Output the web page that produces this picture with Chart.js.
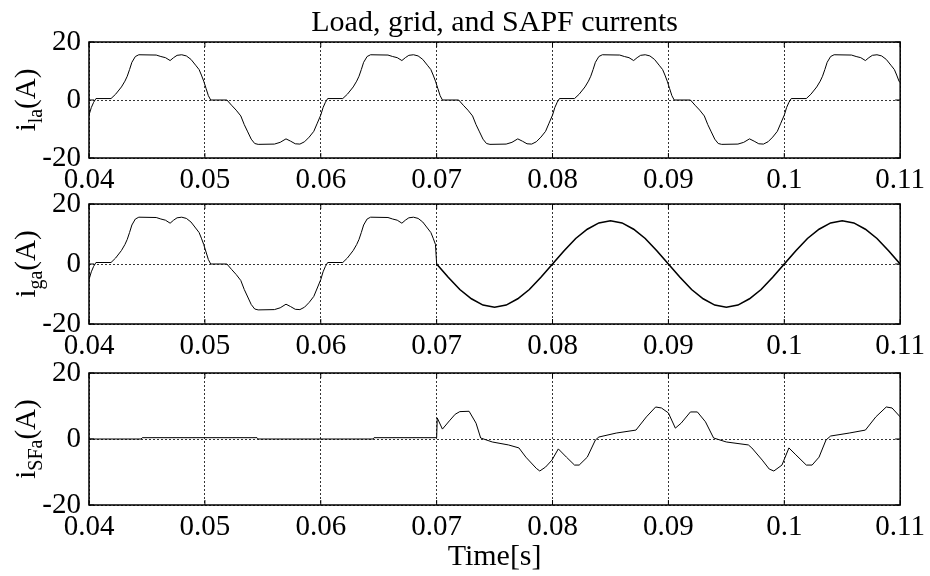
<!DOCTYPE html>
<html>
<head>
<meta charset="utf-8">
<script src="https://cdn.jsdelivr.net/npm/chart.js@4"></script>
<style>
  html, body { margin: 0; padding: 0; background: #fff; }
  #wrap { position: relative; width: 930px; height: 576px; }
  #wrap canvas { position: absolute; left: 0; top: 0; }
</style>
</head>
<body>
<div id="wrap">
  <canvas id="c1" width="930" height="576"></canvas>
  <canvas id="c2" width="930" height="576"></canvas>
  <canvas id="c3" width="930" height="576"></canvas>
</div>
<script>
const FAMILY = "'Liberation Serif', 'Times New Roman', serif";

const xTicks = [0.04, 0.05, 0.06, 0.07, 0.08, 0.09, 0.1, 0.11];
const xTickLabels = ['0.04', '0.05', '0.06', '0.07', '0.08', '0.09', '0.1', '0.11'];
const yTicks = [-20, 0, 20];
const yTickLabels = ['-20', '0', '20'];

// load current i_la
const loadT = [
  0.04, 0.0402, 0.0404, 0.0406, 0.0419, 0.0423, 0.0428, 0.0431, 0.0433, 0.0435, 0.0437, 0.044, 0.0443, 0.0458, 0.0462, 0.0466,
  0.047, 0.0473, 0.0476, 0.048, 0.0484, 0.0488, 0.0492, 0.0495, 0.0497, 0.0499, 0.0501, 0.0503, 0.0505, 0.0519, 0.0523, 0.0527,
  0.0531, 0.0534, 0.0537, 0.054, 0.0543, 0.0546, 0.056, 0.0565, 0.057, 0.0574, 0.0578, 0.0582, 0.0586, 0.059, 0.0594, 0.0597,
  0.06, 0.0602, 0.0604, 0.0606, 0.0619, 0.0623, 0.0628, 0.0631, 0.0633, 0.0635, 0.0637, 0.064, 0.0643, 0.0658, 0.0662, 0.0666,
  0.067, 0.0673, 0.0676, 0.068, 0.0684, 0.0688, 0.0692, 0.0695, 0.0697, 0.0699, 0.0701, 0.0703, 0.0705, 0.0719, 0.0723, 0.0727,
  0.0731, 0.0734, 0.0737, 0.074, 0.0743, 0.0746, 0.076, 0.0765, 0.077, 0.0774, 0.0778, 0.0782, 0.0786, 0.079, 0.0794, 0.0797,
  0.08, 0.0802, 0.0804, 0.0806, 0.0819, 0.0823, 0.0828, 0.0831, 0.0833, 0.0835, 0.0837, 0.084, 0.0843, 0.0858, 0.0862, 0.0866,
  0.087, 0.0873, 0.0876, 0.088, 0.0884, 0.0888, 0.0892, 0.0895, 0.0897, 0.0899, 0.0901, 0.0903, 0.0905, 0.0919, 0.0923, 0.0927,
  0.0931, 0.0934, 0.0937, 0.094, 0.0943, 0.0946, 0.096, 0.0965, 0.097, 0.0974, 0.0978, 0.0982, 0.0986, 0.099, 0.0994, 0.0997,
  0.1, 0.1002, 0.1004, 0.1006, 0.1019, 0.1023, 0.1028, 0.1031, 0.1033, 0.1035, 0.1037, 0.104, 0.1043, 0.1058, 0.1062, 0.1066,
  0.107, 0.1073, 0.1076, 0.108, 0.1084, 0.1088, 0.1092, 0.1095, 0.1097, 0.1099, 0.11
];
const loadI = [
  -5.2, -2.6, -0.8, 0.5, 0.5, 2, 4.5, 6.5, 8.2, 10.5, 13, 15, 15.6, 15.5, 15, 14.6,
  13.6, 14.6, 15.4, 15.6, 15.2, 14, 12, 10.5, 8.6, 6.5, 4, 1.5, 0, 0, -1.8, -3.5,
  -5.5, -8.5, -11, -13.5, -15, -15.3, -15.2, -14.6, -13.4, -14.2, -15.1, -15.2, -14.4, -12.8, -10.8, -8,
  -5.2, -2.6, -0.8, 0.5, 0.5, 2, 4.5, 6.5, 8.2, 10.5, 13, 15, 15.6, 15.5, 15, 14.6,
  13.6, 14.6, 15.4, 15.6, 15.2, 14, 12, 10.5, 8.6, 6.5, 4, 1.5, 0, 0, -1.8, -3.5,
  -5.5, -8.5, -11, -13.5, -15, -15.3, -15.2, -14.6, -13.4, -14.2, -15.1, -15.2, -14.4, -12.8, -10.8, -8,
  -5.2, -2.6, -0.8, 0.5, 0.5, 2, 4.5, 6.5, 8.2, 10.5, 13, 15, 15.6, 15.5, 15, 14.6,
  13.6, 14.6, 15.4, 15.6, 15.2, 14, 12, 10.5, 8.6, 6.5, 4, 1.5, 0, 0, -1.8, -3.5,
  -5.5, -8.5, -11, -13.5, -15, -15.3, -15.2, -14.6, -13.4, -14.2, -15.1, -15.2, -14.4, -12.8, -10.8, -8,
  -5.2, -2.6, -0.8, 0.5, 0.5, 2, 4.5, 6.5, 8.2, 10.5, 13, 15, 15.6, 15.5, 15, 14.6,
  13.6, 14.6, 15.4, 15.6, 15.2, 14, 12, 10.5, 8.6, 6.5, 6
];

// grid current i_ga after compensation starts at 0.07 s (before that it equals the load current)
const gridSwitchT = 0.07;
const gridT = [
  0.07, 0.071, 0.072, 0.073, 0.074, 0.075, 0.076, 0.077, 0.078, 0.079,
  0.08, 0.081, 0.082, 0.083, 0.084, 0.085, 0.086, 0.087, 0.088, 0.089,
  0.09, 0.091, 0.092, 0.093, 0.094, 0.095, 0.096, 0.097, 0.098, 0.099,
  0.1, 0.101, 0.102, 0.103, 0.104, 0.105, 0.106, 0.107, 0.108, 0.109, 0.11
];
const gridI = [
  0, -4.4, -8.5, -11.6, -13.7, -14.4, -13.7, -11.6, -8.5, -4.4,
  0, 4.4, 8.5, 11.6, 13.7, 14.4, 13.7, 11.6, 8.5, 4.4,
  0, -4.4, -8.5, -11.6, -13.7, -14.4, -13.7, -11.6, -8.5, -4.4,
  0, 4.4, 8.5, 11.6, 13.7, 14.4, 13.7, 11.6, 8.5, 4.4, 0
];

// shunt active filter current i_SFa
const sfT = [
  0.04, 0.0445, 0.0446, 0.0545, 0.0546, 0.0645, 0.0646, 0.07, 0.07005, 0.0705,
  0.0711, 0.0716, 0.072, 0.0728, 0.0734, 0.0738, 0.0748, 0.0762, 0.0771, 0.0777,
  0.0786, 0.0789, 0.0794, 0.07995, 0.0805, 0.0812, 0.0819, 0.0823, 0.083, 0.0837,
  0.084, 0.0855, 0.0872, 0.0881, 0.0889, 0.0894, 0.09, 0.0906, 0.0911, 0.0919,
  0.0925, 0.0932, 0.0939, 0.095, 0.0969, 0.0972, 0.0981, 0.0987, 0.0991, 0.0998,
  0.1004, 0.101, 0.1019, 0.1024, 0.103, 0.1036, 0.104, 0.1056, 0.107, 0.1079,
  0.1088, 0.1093, 0.11
];
const sfI = [
  0, 0, 0.4, 0.4, 0, 0, 0.4, 0.4, 6.4, 3,
  5.5, 7.5, 8.3, 8.4, 4.8, 0.3, -0.9, -1.8, -2.7, -5.5,
  -8.9, -9.7, -8.5, -6.4, -3, -5.5, -7.9, -7.9, -5.5, -0.3,
  0.6, 1.8, 2.7, 6.7, 9.7, 9.4, 7.9, 3.3, 4.8, 8.2,
  8.2, 5.2, 0.3, -0.9, -1.8, -2.7, -6.4, -9.1, -9.7, -7.9,
  -2.7, -4.8, -7.9, -7.9, -5.5, -0.3, 0.9, 1.8, 2.7, 6.7,
  9.7, 9.4, 6.7
];

const pts = (ts, vs) => ts.map((t, i) => ({ x: t, y: vs[i] }));

// full box with small inward tick marks, MATLAB style
const boxPlugin = {
  id: 'box',
  afterDraw(chart) {
    const { ctx, chartArea: a, scales } = chart;
    ctx.save();
    ctx.strokeStyle = '#000';
    ctx.lineWidth = 1;
    const seg = (x1, y1, x2, y2) => { ctx.beginPath(); ctx.moveTo(x1, y1); ctx.lineTo(x2, y2); ctx.stroke(); };
    xTicks.forEach(v => {
      const p = scales.x.getPixelForValue(v);
      seg(p, a.bottom, p, a.bottom - 5);
      seg(p, a.top, p, a.top + 5);
    });
    yTicks.forEach(v => {
      const p = scales.y.getPixelForValue(v);
      seg(a.left, p, a.left + 5, p);
      seg(a.right, p, a.right - 5, p);
    });
    ctx.lineWidth = 1.5;
    ctx.strokeRect(a.left, a.top, a.right - a.left, a.bottom - a.top);
    ctx.restore();
  }
};

// rotated y label with subscript: i_sub(A)
const yLabelPlugin = {
  id: 'yLabel',
  afterDraw(chart, args, opts) {
    if (!opts.sub) return;
    const { ctx, chartArea: a } = chart;
    const big = '29px ' + FAMILY, small = '20px ' + FAMILY;
    ctx.save();
    ctx.fillStyle = '#000';
    ctx.font = big;
    const w1 = ctx.measureText('i').width, w3 = ctx.measureText('(A)').width;
    ctx.font = small;
    const w2 = ctx.measureText(opts.sub).width;
    ctx.translate(35, (a.top + a.bottom) / 2);
    ctx.rotate(-Math.PI / 2);
    let x = -(w1 + w2 + w3) / 2;
    ctx.textBaseline = 'alphabetic';
    ctx.font = big; ctx.fillText('i', x, 0); x += w1;
    ctx.font = small; ctx.fillText(opts.sub, x, 7); x += w2;
    ctx.font = big; ctx.fillText('(A)', x, 0);
    ctx.restore();
  }
};

function makePanel(id, datasets, sub, pad, xAxisHeight, extra) {
  return new Chart(document.getElementById(id), {
    type: 'line',
    data: { datasets },
    options: {
      responsive: false,
      animation: false,
      events: [],
      layout: { padding: { top: pad.top, bottom: pad.bottom, left: 0, right: 29 } },
      elements: { point: { radius: 0 }, line: { tension: 0 } },
      plugins: {
        legend: { display: false },
        tooltip: { enabled: false },
        title: extra.title || { display: false },
        yLabel: { sub }
      },
      scales: {
        x: {
          type: 'linear',
          min: 0.04,
          max: 0.11,
          afterBuildTicks: s => { s.ticks = xTicks.map(v => ({ value: v })); },
          afterFit: s => { s.height = xAxisHeight; },
          ticks: {
            autoSkip: false,
            maxRotation: 0,
            padding: 5,
            color: '#000',
            font: { family: FAMILY, size: 29 },
            callback: (v) => xTickLabels[xTicks.indexOf(v)]
          },
          grid: { color: '#000', lineWidth: 0.8, drawTicks: false },
          border: { display: false, dash: [2, 2] },
          title: extra.xTitle || { display: false }
        },
        y: {
          min: -20,
          max: 20,
          afterBuildTicks: s => { s.ticks = yTicks.map(v => ({ value: v })); },
          afterFit: s => { s.width = 89; },
          ticks: {
            padding: 8,
            color: '#000',
            font: { family: FAMILY, size: 29 },
            callback: (v) => yTickLabels[yTicks.indexOf(v)]
          },
          grid: { color: '#000', lineWidth: 0.8, drawTicks: false },
          border: { display: false, dash: [2, 2] }
        }
      }
    },
    plugins: [boxPlugin, yLabelPlugin]
  });
}

const lineStyle = { borderColor: '#000', borderWidth: 1, fill: false };

makePanel('c1',
  [{ ...lineStyle, data: pts(loadT, loadI) }],
  'la', { top: 0, bottom: 378 }, 40,
  {
    title: {
      display: true,
      fullSize: false,
      text: 'Load, grid, and SAPF currents',
      color: '#000',
      font: { family: FAMILY, size: 30, weight: 'normal' },
      padding: { top: 4.9, bottom: 1.1 }
    }
  });

const gridBefore = pts(loadT, loadI).filter(p => p.x < gridSwitchT);
makePanel('c2',
  [
    { ...lineStyle, data: gridBefore.concat(pts(gridT, gridI).slice(0, 1)) },
    { ...lineStyle, borderWidth: 1.6, data: pts(gridT, gridI) }
  ],
  'ga', { top: 204, bottom: 212 }, 40, {});

makePanel('c3',
  [{ ...lineStyle, data: pts(sfT, sfI) }],
  'SFa', { top: 373, bottom: 0 }, 71,
  {
    xTitle: {
      display: true,
      text: 'Time[s]',
      color: '#000',
      font: { family: FAMILY, size: 30 },
      padding: { top: 0, bottom: 1 }
    }
  });
</script>
</body>
</html>
